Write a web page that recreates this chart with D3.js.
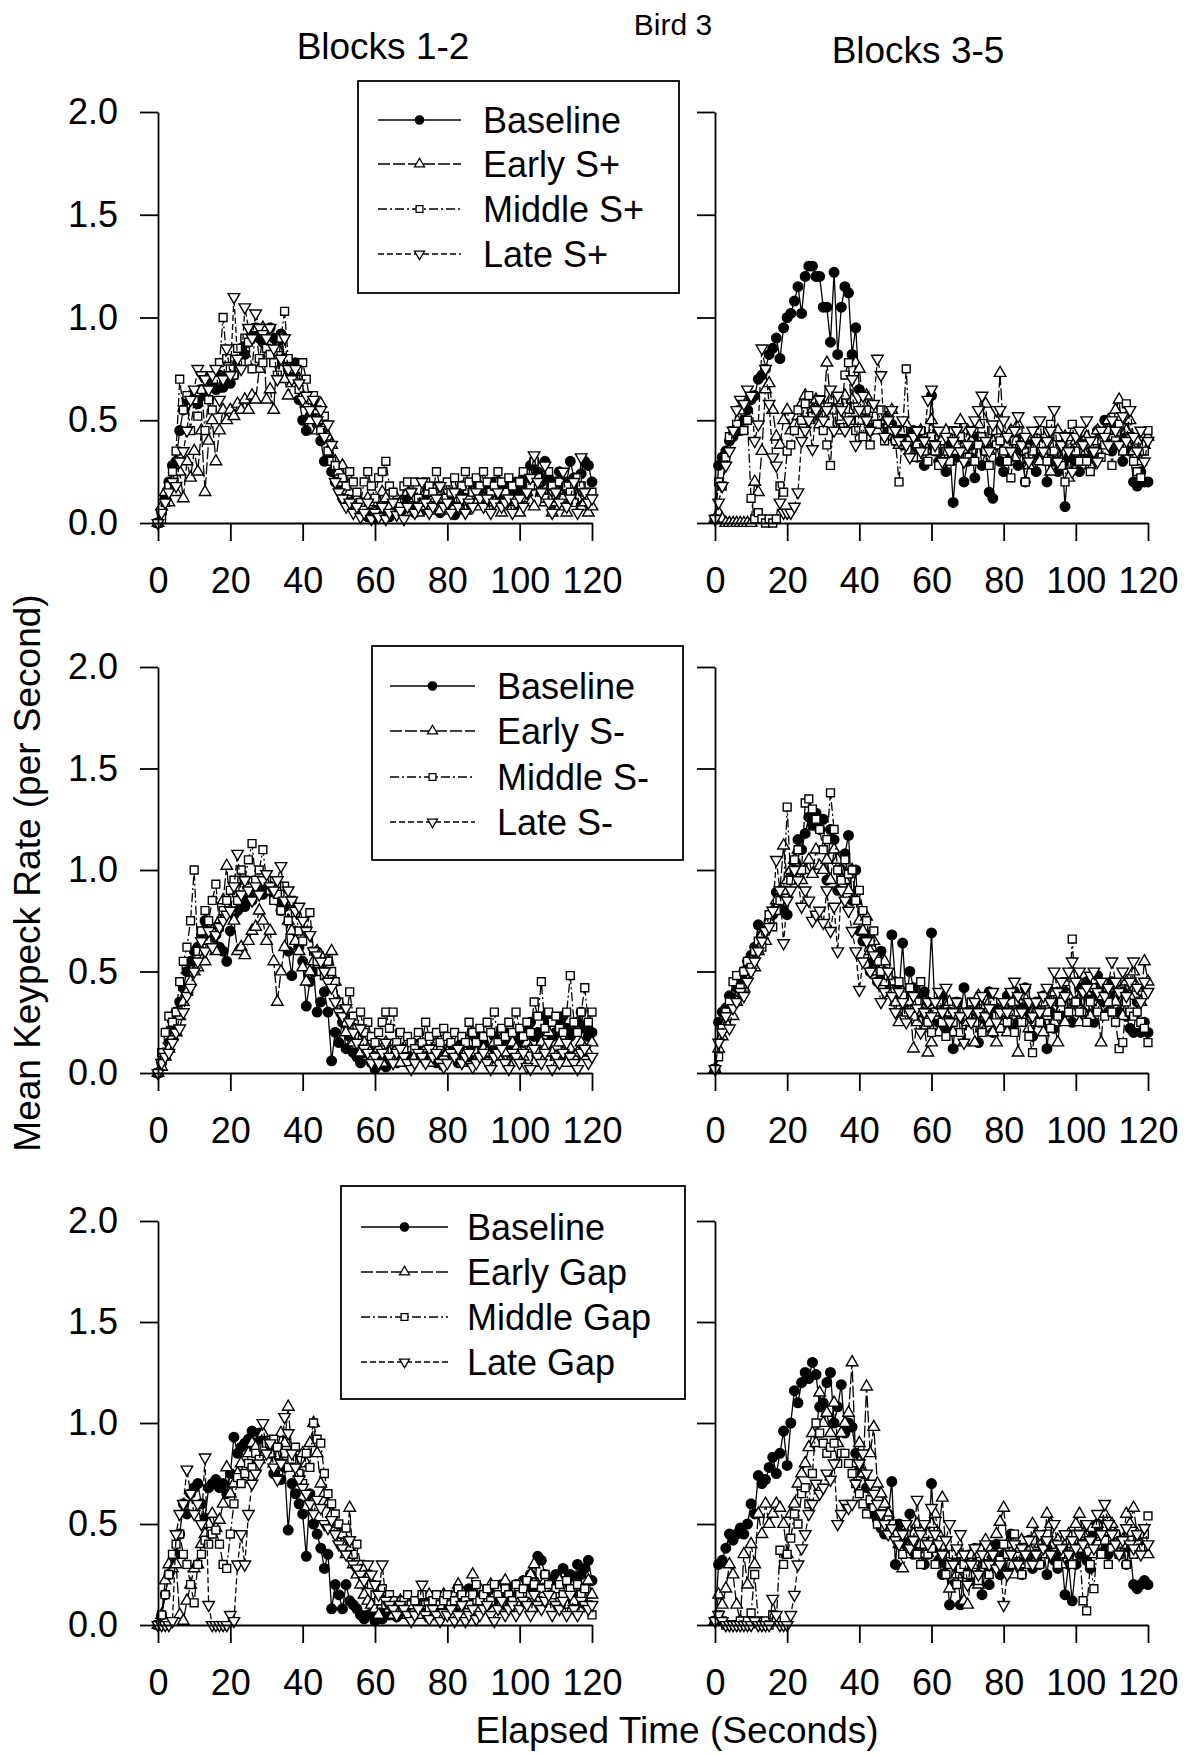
<!DOCTYPE html>
<html>
<head>
<meta charset="utf-8">
<script src="https://cdnjs.cloudflare.com/ajax/libs/d3/7.8.5/d3.min.js"></script>
<style>
  body { margin: 0; background: #fff; }
  svg { font-family: "Liberation Sans", Arial, sans-serif; }
</style>
</head>
<body>
<svg id="chart" width="1195" height="1754"></svg>
<script>
// time bins (seconds)
const seconds = d3.range(0, 121);
const xTicks = [0, 20, 40, 60, 80, 100, 120];
const yTicks = [0, 0.5, 1.0, 1.5, 2.0];
const colTitles = ["Blocks 1-2", "Blocks 3-5"];

const sPlusLabels = ["Baseline", "Early S+", "Middle S+", "Late S+"];
const sMinusLabels = ["Baseline", "Early S-", "Middle S-", "Late S-"];
const gapLabels = ["Baseline", "Early Gap", "Middle Gap", "Late Gap"];

// ---- S+ , blocks 1-2
const sPlus12Base = [0,.05,.12,.2,.28,.3,.45,.55,.6,.62, .6,.58,.65,.62,.7,.68,.65,.72,.66,.7,
  .68,.72,.78,.85,.82,.88,.92,.95,.9,.88, .92,.95,.9,.88,.92,.8,.75,.72,.78,.6,
  .5,.45,.52,.58,.48,.4,.3,.32,.25,.2, .18,.12,.1,.1,.08,.12,.1,.05,.03,.05,
  .02,.06,.04,.08,.03,.06,.1,.05,.08,.12, .08,.05,.1,.06,.12,.15,.1,.08,.05,.1,
  .12,.08,.04,.15,.18,.12,.1,.16,.2,.14, .12,.18,.15,.2,.12,.16,.18,.1,.14,.2,
  .15,.22,.18,.28,.3,.25,.2,.3,.22,.18, .2,.25,.18,.2,.3,.22,.18,.24,.3,.28,.2];
const sPlus12Early = [0,.08,.15,.1,.2,.15,.25,.12,.3,.22, .35,.25,.45,.15,.4,.5,.3,.45,.55,.5,
  .55,.52,.58,.55,.6,.55,.62,.6,.75,.95, .6,.65,.55,.85,.9,.7,.62,.68,.72,.7,
  .62,.58,.5,.55,.45,.58,.5,.42,.38,.3, .25,.28,.2,.15,.1,.12,.05,.08,.12,.1,
  .05,.1,.15,.12,.08,.05,.12,.1,.08,.15, .1,.12,.05,.08,.15,.1,.12,.08,.06,.12,
  .1,.14,.08,.12,.1,.06,.12,.15,.1,.08, .12,.1,.15,.1,.2,.05,.1,.12,.08,.1,
  .05,.12,.15,.1,.08,.2,.15,.1,.12,.05, .1,.08,.12,.05,.1,.15,.12,.08,.1,.05,.08];
const sPlus12Mid = [0,.02,.1,.18,.25,.35,.7,.55,.62,.45, .6,.52,.65,.45,.6,.55,.7,.78,1.0,.8,
  .75,.72,.85,.78,.9,.88,.75,.95,.8,.78, .85,.82,.78,.72,.9,1.03,.8,.75,.7,.65,
  .78,.7,.6,.62,.55,.45,.52,.35,.3,.28, .2,.22,.18,.25,.2,.15,.1,.2,.25,.18,
  .12,.22,.25,.3,.18,.15,.1,.08,.18,.2, .15,.2,.12,.1,.2,.18,.15,.25,.18,.12,
  .2,.15,.22,.12,.18,.25,.2,.15,.22,.18, .25,.2,.15,.18,.25,.2,.15,.22,.18,.12,
  .2,.25,.15,.18,.3,.22,.15,.12,.25,.18, .15,.2,.12,.18,.15,.1,.22,.18,.15,.12,.15];
const sPlus12Late = [0,.05,.1,.15,.2,.18,.3,.35,.45,.6, .65,.75,.72,.7,.65,.72,.75,.6,.7,.85,
  .72,1.1,.8,.75,1.05,.95,.9,1.02,.95,.92, .9,.95,.85,.7,.8,.9,.75,.7,.75,.68,
  .6,.62,.55,.6,.5,.55,.42,.48,.38,.2, .15,.12,.08,.1,.05,.08,.03,.05,.1,.02,
  .05,.03,.08,.02,.05,.1,.04,.06,.02,.08, .15,.05,.08,.2,.1,.05,.08,.12,.18,.08,
  .1,.05,.15,.08,.12,.05,.1,.08,.15,.12, .08,.12,.05,.1,.15,.08,.1,.12,.05,.1,
  .12,.08,.15,.22,.33,.2,.15,.28,.1,.05, .15,.1,.25,.08,.12,.2,.05,.32,.15,.1,.12];

// ---- S+ , blocks 3-5
const sPlus35Base = [.02,.28,.32,.35,.4,.42,.45,.45,.5,.55, .6,.62,.7,.72,.75,.82,.85,.9,.8,.95,
  1.0,1.02,1.08,1.15,1.02,1.2,1.25,1.25,1.2,1.2, 1.05,1.05,.88,1.22,.82,1.05,1.15,1.12,.82,.95,
  .65,.55,.5,.45,.52,.48,.5,.52,.45,.48, .4,.45,.38,.42,.35,.45,.32,.4,.28,.38,
  .62,.35,.3,.42,.25,.38,.1,.32,.4,.2, .3,.38,.22,.42,.28,.35,.15,.12,.38,.3,
  .25,.38,.32,.42,.28,.35,.2,.3,.4,.25, .32,.38,.2,.35,.3,.25,.38,.08,.32,.35,
  .3,.25,.4,.32,.28,.35,.45,.38,.5,.42, .35,.48,.4,.3,.42,.35,.2,.18,.25,.2,.2];
const sPlus35Early = [.02,.05,.02,0,0,0,0,0,0,0, 0,.2,.15,.35,.65,.68,.55,.42,.38,.5,
  .55,.45,.48,.52,.58,.62,.5,.55,.6,.48, .52,.78,.6,.55,.45,.5,.62,.55,.6,.78,
  .75,.58,.62,.5,.55,.45,.52,.5,.48,.55, .42,.38,.45,.48,.35,.4,.32,.45,.38,.4,
  .5,.35,.42,.38,.45,.3,.42,.35,.5,.38, .45,.4,.3,.48,.52,.58,.35,.4,.45,.73,
  .42,.38,.45,.32,.48,.4,.35,.28,.42,.38, .3,.42,.35,.25,.38,.45,.3,.42,.22,.35,
  .4,.3,.35,.42,.28,.38,.45,.4,.35,.5, .42,.55,.6,.38,.45,.5,.35,.4,.3,.38,.42];
const sPlus35Mid = [.02,.2,.18,.32,.42,.45,.48,.55,.45,.5, .12,.02,.05,.02,0,.02,0,.02,.18,.15,
  .35,.38,.45,.55,.5,.58,.62,.52,.55,.6, .45,.38,.28,.55,.6,.52,.72,.78,.5,.45,
  .5,.42,.55,.38,.52,.48,.55,.4,.5,.45, .4,.2,.45,.75,.4,.32,.38,.45,.35,.3,
  .42,.35,.28,.4,.35,.3,.45,.38,.42,.35, .32,.45,.3,.38,.42,.35,.28,.45,.38,.4,
  .35,.3,.22,.4,.45,.38,.2,.32,.35,.42, .45,.38,.3,.48,.35,.42,.28,.2,.42,.48,
  .35,.3,.38,.3,.25,.4,.35,.32,.38,.45, .28,.4,.48,.35,.58,.42,.3,.25,.22,.35,.45];
const sPlus35Late = [.02,.1,.18,.28,.35,.45,.55,.6,.58,.65, .62,.4,.48,.85,.75,.58,.32,.28,.1,.05,
  .05,.05,.08,.15,.4,.45,.5,.36,.55,.6, .5,.55,.65,.45,.62,.55,.45,.5,.7,.38,
  .55,.62,.5,.45,.58,.8,.72,.42,.5,.55, .45,.4,.5,.38,.32,.42,.45,.35,.4,.6,
  .65,.38,.45,.3,.42,.35,.4,.45,.35,.3, .38,.45,.5,.55,.62,.4,.35,.48,.55,.55,
  .5,.42,.35,.45,.52,.38,.42,.3,.45,.4, .5,.35,.4,.45,.55,.3,.38,.42,.35,.25,
  .42,.45,.38,.5,.4,.35,.3,.45,.42,.38, .5,.45,.38,.52,.4,.55,.42,.35,.45,.3,.4];

// ---- S- , blocks 1-2
const sMinus12Base = [0,.05,.1,.15,.22,.3,.35,.42,.5,.55, .6,.62,.68,.75,.7,.65,.68,.62,.6,.55,
  .7,.78,.8,.85,.82,.88,.85,.9,.92,.88, .9,.92,.88,.85,.8,.82,.6,.48,.7,.62,
  .55,.33,.45,.5,.3,.35,.4,.3,.06,.2, .15,.25,.12,.18,.1,.08,.05,.1,.12,.05,
  .02,.04,.06,.03,.08,.1,.05,.07,.12,.08, .05,.1,.08,.12,.06,.1,.08,.05,.12,.1,
  .08,.12,.1,.05,.15,.1,.08,.12,.18,.1, .15,.1,.12,.18,.1,.15,.2,.12,.15,.18,
  .2,.15,.22,.25,.18,.2,.15,.28,.25,.18, .2,.25,.28,.22,.18,.2,.25,.3,.22,.18,.2];
const sMinus12Early = [0,.03,.08,.12,.18,.2,.28,.35,.4,.45, .5,.52,.6,.55,.65,.7,.6,.75,.85,1.02,
  .8,.75,.6,.62,.58,.65,.7,.72,.8,.75, .65,.7,.55,.35,.5,.62,.75,.7,.65,.6,
  .52,.45,.5,.55,.6,.58,.5,.55,.6,.45, .35,.3,.2,.25,.15,.18,.1,.15,.12,.08,
  .1,.12,.05,.15,.1,.08,.12,.05,.1,.15, .12,.08,.18,.1,.12,.05,.1,.15,.12,.08,
  .1,.15,.08,.12,.05,.1,.15,.2,.1,.08, .12,.1,.05,.15,.08,.12,.1,.05,.15,.12,
  .1,.08,.15,.12,.05,.1,.15,.12,.2,.1, .08,.15,.1,.05,.12,.08,.1,.15,.12,.1,.15];
const sMinus12Mid = [0,.1,.2,.28,.25,.3,.45,.55,.62,.75, 1.0,.6,.7,.8,.75,.85,.93,.72,.8,.85,
  .9,.95,.85,1.0,.95,1.05,1.13,.95,1.0,1.1, .95,.9,.85,.88,.8,.92,.75,.85,.79,.7,
  .65,.7,.79,.6,.55,.5,.48,.55,.5,.45, .35,.3,.25,.4,.28,.22,.3,.2,.25,.18,
  .15,.2,.25,.3,.22,.3,.15,.2,.12,.18, .15,.12,.2,.15,.25,.18,.12,.2,.15,.22,
  .18,.15,.2,.12,.18,.15,.25,.2,.15,.22, .18,.25,.2,.3,.15,.22,.18,.25,.2,.3,
  .22,.18,.25,.2,.35,.28,.45,.22,.3,.25, .28,.22,.2,.3,.48,.25,.2,.3,.42,.25,.3];
const sMinus12Late = [0,.05,.08,.1,.15,.2,.22,.3,.38,.42, .5,.55,.65,.6,.7,.62,.68,.72,.75,.78,
  .8,.92,1.08,.88,.95,.9,.85,.92,.88,.95, .98,.92,.9,.95,1.02,.85,.9,.85,.8,.82,
  .75,.7,.68,.6,.58,.55,.5,.45,.42,.35, .3,.28,.32,.25,.2,.15,.22,.12,.1,.05,
  .08,.05,.1,.15,.08,.05,.1,.12,.08,.05, .02,.05,.1,.08,.05,.12,.08,.1,.05,.03,
  .05,.1,.08,.12,.05,.08,.1,.03,.05,.08, .1,.05,.02,.08,.1,.12,.05,.02,.1,.08,
  .05,.1,.03,.02,.12,.08,.05,.1,.15,.02, .08,.05,.1,.15,.08,.05,.02,.1,.12,.05,.08];

// ---- S- , blocks 3-5
const sMinus35Base = [.02,.25,.3,.32,.38,.35,.42,.46,.5,.55, .58,.62,.73,.68,.7,.75,.78,.89,.85,.8,
  .78,.95,1.0,1.15,1.1,1.18,1.26,1.22,1.28,1.2, 1.25,.95,1.2,1.15,.9,1.0,1.08,1.17,.85,1.0,
  .7,.65,.68,.5,.55,.45,.6,.5,.4,.68, .45,.4,.64,.35,.5,.42,.38,.3,.4,.35,
  .69,.3,.25,.38,.22,.3,.12,.35,.28,.42, .3,.25,.35,.15,.3,.25,.4,.2,.32,.28,
  .3,.38,.22,.4,.25,.32,.42,.3,.18,.35, .25,.38,.12,.3,.22,.35,.28,.4,.3,.25,
  .35,.42,.3,.45,.38,.25,.48,.35,.4,.3, .45,.38,.3,.4,.28,.22,.2,.35,.2,.25,.2];
const sMinus35Early = [.02,.12,.18,.25,.3,.28,.35,.4,.42,.5, .55,.52,.6,.68,.65,.75,.8,.85,.9,1.12,
  .95,1.0,1.05,1.1,.95,1.0,1.05,.98,1.1,1.02, 1.0,1.05,.95,1.1,1.05,1.0,.95,.9,1.0,.85,
  .75,.7,.77,.6,.65,.5,.45,.55,.4,.45, .35,.25,.4,.3,.35,.12,.25,.3,.22,.1,
  .15,.28,.2,.3,.25,.35,.2,.28,.3,.15, .25,.3,.15,.38,.22,.28,.35,.2,.15,.3,
  .25,.2,.3,.35,.1,.28,.38,.22,.3,.25, .3,.2,.28,.35,.25,.15,.32,.25,.38,.3,
  .35,.25,.3,.4,.28,.35,.32,.15,.38,.42, .3,.35,.4,.28,.45,.38,.5,.42,.35,.55,.45];
const sMinus35Mid = [.02,.08,.22,.3,.35,.45,.48,.42,.5,.55, .52,.6,.65,.62,.7,.78,.72,.8,.85,.9,
  1.31,.95,1.05,1.1,1.0,1.33,1.35,1.3,1.25,1.2, 1.1,1.15,1.38,1.2,1.0,.95,1.05,.98,1.0,.85,
  .9,.8,.75,.65,.7,.55,.5,.45,.48,.4, .35,.45,.38,.3,.42,.28,.35,.45,.3,.25,
  .2,.3,.35,.25,.18,.3,.25,.35,.2,.3, .28,.35,.25,.3,.2,.32,.25,.35,.28,.22,
  .3,.25,.35,.2,.3,.25,.38,.18,.1,.3, .25,.35,.3,.22,.4,.28,.35,.45,.3,.66,
  .35,.3,.4,.25,.35,.42,.3,.38,.28,.35, .3,.25,.12,.15,.35,.3,.28,.3,.25,.22,.15];
const sMinus35Late = [.02,.15,.2,.28,.22,.32,.35,.4,.38,.45, .5,.55,.6,.65,.7,.72,.8,1.05,.9,.64,
  .85,.9,1.0,.95,.82,.9,.85,.75,.78,.8, .74,.9,.7,.82,.6,.9,.85,.8,.7,.6,
  .41,.55,.65,.5,.58,.45,.35,.4,.5,.38, .3,.4,.35,.25,.3,.38,.32,.2,.3,.35,
  .28,.35,.4,.3,.42,.25,.3,.35,.28,.15, .3,.25,.35,.3,.38,.28,.32,.4,.25,.3,
  .35,.3,.4,.45,.38,.3,.42,.35,.28,.35, .3,.38,.42,.35,.5,.4,.45,.38,.5,.55,
  .45,.5,.4,.42,.48,.5,.4,.45,.38,.42, .55,.45,.4,.5,.38,.45,.55,.42,.35,.45,.4];

// ---- Gap , blocks 1-2
const gap12Base = [0,.05,.15,.25,.3,.35,.45,.6,.55,.65, .68,.7,.6,.53,.68,.7,.72,.68,.7,.65,
  .75,.93,.85,.88,.9,.92,.96,.9,.95,.92, .88,.85,.75,.8,.72,.78,.47,.7,.65,.6,
  .55,.34,.65,.5,.45,.38,.28,.35,.08,.2, .15,.08,.2,.12,.1,.08,.05,.03,.05,.1,
  .02,.05,.03,.08,.05,.1,.04,.06,.08,.05, .08,.05,.1,.06,.12,.08,.05,.1,.12,.08,
  .1,.12,.08,.15,.1,.12,.18,.1,.15,.12, .15,.1,.18,.12,.15,.2,.12,.18,.15,.2,
  .18,.22,.2,.25,.18,.34,.32,.25,.22,.2, .25,.22,.28,.2,.25,.22,.3,.25,.28,.32,.22];
const gap12Early = [0,.05,.22,.3,.28,.3,.05,.02,.12,.2, .28,.3,.4,.45,.5,.55,.48,.52,.6,.78,
  .65,.7,.75,.8,.72,.85,.9,.88,.82,.95, .9,.85,.8,.88,.95,.9,1.08,.85,.8,.75,
  .85,.8,.9,1.0,.85,.7,.65,.6,.55,.5, .45,.4,.35,.58,.3,.25,.2,.15,.12,.1,
  .08,.05,.1,.12,.08,.05,.1,.12,.08,.05, .1,.08,.12,.05,.1,.15,.08,.12,.1,.15,
  .12,.08,.15,.2,.1,.12,.15,.25,.12,.18, .15,.12,.2,.15,.18,.12,.22,.15,.1,.18,
  .2,.15,.12,.25,.3,.2,.15,.22,.18,.12, .15,.22,.18,.1,.15,.2,.12,.18,.15,.22,.15];
const gap12Mid = [0,.05,.15,.25,.35,.4,.45,.35,.3,.2, .11,.3,.35,.42,.4,.45,.47,.4,.3,.28,
  .45,.6,.73,.7,.75,.8,.78,.85,.82,.88, .9,.85,.92,.88,.8,.85,.78,.82,.88,.75,
  .7,.85,.78,1.0,.92,.9,.75,.65,.6,.55, .5,.45,.48,.38,.35,.4,.3,.28,.25,.2,
  .15,.12,.18,.1,.15,.12,.08,.1,.12,.15, .1,.12,.08,.15,.1,.08,.12,.15,.1,.12,
  .15,.1,.12,.18,.15,.12,.1,.15,.2,.12, .15,.18,.12,.2,.15,.1,.18,.15,.12,.2,
  .15,.18,.22,.15,.2,.12,.18,.25,.2,.15, .18,.2,.15,.22,.18,.12,.2,.15,.18,.1,.05];
const gap12Late = [0,0,0,0,.02,.45,.55,.6,.77,.65, .55,.6,.5,.83,.1,0,0,0,0,0,
  .05,.02,.3,.45,.3,.55,.7,.75,.8,1.0, .85,.9,.78,.72,.8,1.03,.95,.85,.78,.72,
  .68,.65,.6,.55,.62,.58,.5,.48,.52,.45, .4,.38,.35,.42,.3,.28,.25,.22,.3,.25,
  .2,.15,.3,.12,.1,.08,.05,.1,.08,.05, .02,.05,.08,.2,.05,.03,.08,.05,.02,.06,
  .05,.08,.02,.05,.1,.02,.05,.08,.03,.05, .08,.1,.05,.02,.08,.12,.05,.08,.1,.05,
  .08,.12,.1,.05,.15,.1,.08,.12,.15,.05, .1,.08,.12,.05,.15,.08,.05,.12,.1,.08,.1];

// ---- Gap , blocks 3-5
const gap35Base = [.02,.3,.32,.38,.45,.42,.45,.48,.45,.5, .6,.55,.74,.7,.72,.78,.83,.75,.85,.96,
  .79,1.0,1.16,1.1,1.2,1.25,1.22,1.3,1.24,1.08, 1.1,1.2,1.25,1.0,1.08,1.19,.95,1.0,.98,.85,
  .79,.75,.68,.6,.55,.52,.48,.45,.55,.71, .3,.5,.45,.4,.55,.35,.42,.38,.3,.35,
  .7,.4,.32,.25,.3,.1,.2,.35,.1,.28, .3,.22,.38,.25,.15,.3,.2,.32,.4,.25,
  .35,.28,.45,.3,.38,.25,.32,.42,.28,.35, .3,.38,.25,.4,.32,.28,.35,.15,.3,.12,
  .3,.35,.4,.32,.28,.45,.5,.38,.42,.35, .4,.45,.35,.42,.3,.38,.2,.18,.2,.22,.2];
const gap35Early = [.02,.15,.1,.18,.3,.25,.1,.02,.35,.2, .4,.3,.55,.45,.6,.5,.55,.6,.58,.5,
  .35,.55,.6,.7,.75,.8,.88,.95,.9,1.15, 1.0,1.05,.95,1.1,.9,.95,1.0,1.05,1.3,.8,
  .9,.75,1.18,.85,.98,.7,.65,.6,.55,.5, .45,.4,.28,.35,.4,.45,.5,.4,.35,.45,
  .5,.55,.45,.63,.35,.18,.3,.25,.35,.12, .1,.25,.35,.2,.3,.42,.38,.35,.45,.51,
  .58,.4,.3,.25,.35,.42,.3,.38,.5,.45, .4,.35,.55,.5,.38,.42,.3,.35,.45,.4,
  .5,.55,.45,.4,.48,.35,.5,.45,.55,.42, .5,.45,.38,.42,.55,.5,.58,.45,.4,.38,.35];
const gap35Mid = [.02,.05,.02,0,0,0,0,.02,0,.02, .06,.25,.02,0,.02,0,.05,.02,.37,.3,
  .35,.43,.55,.5,.65,.68,.6,.75,1.0,.95, .9,.85,.88,.9,.8,.85,.85,.8,.75,.7,
  .65,.6,.55,.62,.58,.5,.55,.48,.52,.5, .45,.4,.35,.45,.38,.42,.35,.3,.4,.35,
  .38,.3,.42,.35,.25,.3,.35,.2,.28,.3, .25,.35,.3,.22,.38,.3,.25,.35,.28,.32,
  .4,.35,.3,.45,.38,.25,.35,.3,.42,.35, .3,.38,.45,.35,.4,.3,.38,.42,.35,.3,
  .45,.38,.12,.07,.3,.18,.4,.35,.42,.3, .38,.45,.35,.4,.3,.42,.35,.4,.38,.45,.54];
const gap35Late = [.02,.05,.02,0,0,0,0,0,0,0, 0,.02,0,0,0,0,.13,.05,0,0,
  0,.05,.15,.3,.38,.45,.55,.6,.7,.65, .68,.75,.72,.8,.5,.55,.6,.58,.6,.7,
  .8,.85,.75,.7,.65,.6,.55,.5,.45,.48, .42,.4,.45,.5,.38,.42,.62,.45,.5,.4,
  .58,.45,.4,.35,.42,.5,.3,.38,.45,.35, .2,.3,.38,.25,.35,.4,.3,.35,.28,.3,
  .1,.25,.35,.4,.3,.38,.35,.42,.3,.35, .45,.38,.42,.35,.5,.4,.38,.45,.35,.42,
  .38,.45,.4,.5,.42,.38,.55,.45,.6,.5, .45,.4,.35,.42,.48,.4,.38,.45,.35,.48,.4];

// ---------------------------------------------------------------
const svg = d3.select("#chart");
const FONT = 36;

const cols = [{left: 158, right: 592}, {left: 715, right: 1148}];
const rows = [{top: 112, bottom: 523}, {top: 667, bottom: 1073}, {top: 1221, bottom: 1625}];

const panels = [
  {row: 0, col: 0, series: [sPlus12Base, sPlus12Early, sPlus12Mid, sPlus12Late]},
  {row: 0, col: 1, series: [sPlus35Base, sPlus35Early, sPlus35Mid, sPlus35Late]},
  {row: 1, col: 0, series: [sMinus12Base, sMinus12Early, sMinus12Mid, sMinus12Late]},
  {row: 1, col: 1, series: [sMinus35Base, sMinus35Early, sMinus35Mid, sMinus35Late]},
  {row: 2, col: 0, series: [gap12Base, gap12Early, gap12Mid, gap12Late]},
  {row: 2, col: 1, series: [gap35Base, gap35Early, gap35Mid, gap35Late]}
];

// baseline / early / middle / late
const seriesStyle = [
  {dash: null,      type: d3.symbolCircle,   size: 72, fill: "#000", rot: false},
  {dash: "12,3",    type: d3.symbolTriangle, size: 58, fill: "#fff", rot: false},
  {dash: "9,3,2,3", type: d3.symbolSquare,   size: 62, fill: "#fff", rot: false},
  {dash: "6,3",     type: d3.symbolTriangle, size: 58, fill: "#fff", rot: true}
];

const legends = [
  {row: 0, labels: sPlusLabels,  box: [358, 81, 321, 212],  lx: [378, 461], tx: 483, ys: [120, 164, 209, 254]},
  {row: 1, labels: sMinusLabels, box: [372, 646, 311, 214], lx: [390, 475], tx: 497, ys: [686, 731, 777, 822]},
  {row: 2, labels: gapLabels,    box: [341, 1186, 344, 213], lx: [361, 448], tx: 467, ys: [1227, 1272, 1317, 1362]}
];

function styleAxis(g) {
  g.attr("font-family", null).attr("font-size", null);
  g.selectAll("path.domain").attr("stroke", "#000").attr("stroke-width", 1.8);
  g.selectAll(".tick line").attr("stroke", "#000").attr("stroke-width", 1.8);
  g.selectAll(".tick text").style("font-size", FONT + "px").attr("fill", "#000");
}

panels.forEach(p => {
  const c = cols[p.col], r = rows[p.row];
  const x = d3.scaleLinear().domain([0, 120]).range([c.left, c.right]);
  const y = d3.scaleLinear().domain([0, 2]).range([r.bottom, r.top]);

  const line = d3.line()
    .x((v, i) => x(seconds[i]))
    .y(v => y(v));

  p.series.forEach((vals, k) => {
    const st = seriesStyle[k];
    const g = svg.append("g");
    g.append("path")
      .datum(vals)
      .attr("d", line)
      .attr("fill", "none")
      .attr("stroke", "#000")
      .attr("stroke-width", 1.3)
      .attr("stroke-dasharray", st.dash);
    g.selectAll("path.mark")
      .data(vals)
      .join("path")
      .attr("class", "mark")
      .attr("transform", (v, i) => `translate(${x(seconds[i])},${y(v)})` + (st.rot ? " rotate(180)" : ""))
      .attr("d", d3.symbol().type(st.type).size(st.size))
      .attr("fill", st.fill)
      .attr("stroke", "#000")
      .attr("stroke-width", 1.4);
  });

  // axes
  const yAxis = d3.axisLeft(y).tickValues(yTicks).tickSize(18).tickSizeOuter(0).tickPadding(22)
    .tickFormat(p.col == 0 ? d3.format(".1f") : "");
  svg.append("g")
    .attr("transform", `translate(${c.left},0)`)
    .call(yAxis)
    .call(styleAxis);

  const xAxis = d3.axisBottom(x).tickValues(xTicks).tickSize(18).tickSizeOuter(0).tickPadding(26);
  svg.append("g")
    .attr("transform", `translate(0,${r.bottom})`)
    .call(xAxis)
    .call(styleAxis);
});

// legends
legends.forEach(L => {
  const g = svg.append("g");
  g.append("rect")
    .attr("x", L.box[0]).attr("y", L.box[1])
    .attr("width", L.box[2]).attr("height", L.box[3])
    .attr("fill", "#fff").attr("stroke", "#000").attr("stroke-width", 1.8);
  L.labels.forEach((lab, k) => {
    const st = seriesStyle[k];
    const yy = L.ys[k];
    const mx = (L.lx[0] + L.lx[1]) / 2;
    g.append("line")
      .attr("x1", L.lx[0]).attr("x2", L.lx[1])
      .attr("y1", yy).attr("y2", yy)
      .attr("stroke", "#000").attr("stroke-width", 1.3)
      .attr("stroke-dasharray", st.dash);
    g.append("path")
      .attr("transform", `translate(${mx},${yy})` + (st.rot ? " rotate(180)" : ""))
      .attr("d", d3.symbol().type(st.type).size(st.size * 0.75))
      .attr("fill", st.fill).attr("stroke", "#000").attr("stroke-width", 1.3);
    g.append("text")
      .attr("x", L.tx).attr("y", yy + 13)
      .style("font-size", FONT + "px")
      .text(lab);
  });
});

// titles
svg.append("text").attr("x", 383).attr("y", 59).attr("text-anchor", "middle")
  .style("font-size", "37px").text(colTitles[0]);
svg.append("text").attr("x", 918).attr("y", 63).attr("text-anchor", "middle")
  .style("font-size", "37px").text(colTitles[1]);
svg.append("text").attr("x", 673).attr("y", 35).attr("text-anchor", "middle")
  .style("font-size", "30px").text("Bird 3");

svg.append("text")
  .attr("transform", "translate(40,873) rotate(-90)")
  .attr("text-anchor", "middle")
  .style("font-size", "37px")
  .text("Mean Keypeck Rate (per Second)");

svg.append("text")
  .attr("x", 677).attr("y", 1743)
  .attr("text-anchor", "middle")
  .style("font-size", "37px")
  .text("Elapsed Time (Seconds)");
</script>
</body>
</html>
